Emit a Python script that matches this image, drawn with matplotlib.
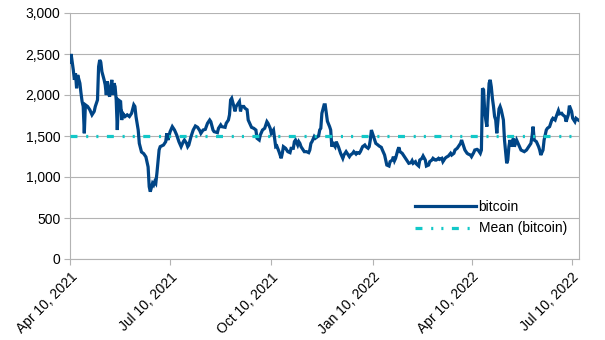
import matplotlib
matplotlib.use("Agg")
import matplotlib.pyplot as plt
import matplotlib.dates as mdates
from matplotlib.ticker import FuncFormatter
import numpy as np
import pandas as pd

plt.rcParams['font.family'] = ['Liberation Sans', 'DejaVu Sans']
plt.rcParams['lines.scale_dashes'] = False

# data, days counted from Apr 10, 2021
start_date = "2021-04-10"
days = [0, 1, 3, 4, 5, 6, 7, 9, 10, 11, 12, 13, 14, 16, 18, 20, 22, 23, 25, 26,
        27, 28, 29, 31, 32, 33, 34, 35, 36, 38, 39, 40, 41, 42, 43, 44, 46, 47, 48, 50,
        52, 54, 56, 58, 59, 60, 62, 63, 65, 67, 69, 71, 72, 73, 75, 76, 77, 78, 79, 81,
        82, 85, 87, 88, 89, 91, 93, 95, 97, 99, 101, 103, 104, 106, 107, 108, 110, 112, 114, 116,
        118, 119, 121, 123, 125, 127, 128, 130, 131, 134, 135, 137, 138, 141, 142, 144, 145, 146, 147, 149,
        150, 151, 153, 154, 155, 156, 158, 159, 161, 162, 164, 165, 167, 169, 170, 172, 173, 175, 177, 179,
        180, 182, 183, 185, 186, 187, 188, 190, 191, 192, 193, 194, 196, 198, 200, 201, 203, 204, 205, 207,
        208, 209, 210, 211, 213, 215, 217, 218, 219, 220, 222, 223, 225, 226, 227, 228, 229, 231, 232, 233,
        234, 236, 237, 238, 239, 241, 242, 244, 245, 246, 248, 249, 251, 252, 254, 255, 257, 258, 260, 261,
        263, 264, 266, 268, 269, 271, 272, 273, 274, 276, 278, 280, 281, 283, 284, 286, 287, 288, 290, 291,
        293, 294, 295, 296, 298, 299, 300, 302, 304, 305, 307, 308, 310, 311, 312, 314, 315, 317, 318, 320,
        321, 323, 324, 326, 327, 329, 330, 332, 333, 335, 336, 338, 339, 341, 342, 344, 346, 347, 349, 350,
        352, 353, 355, 356, 358, 359, 361, 362, 364, 365, 367, 368, 370, 371, 373, 374, 375, 376, 377, 378,
        379, 380, 381, 382, 383, 384, 385, 386, 387, 388, 390, 391, 392, 394, 395, 397, 398, 399, 400, 401,
        403, 404, 406, 408, 410, 413, 415, 417, 419, 420, 421, 422, 424, 426, 427, 428, 430, 431, 433, 434,
        436, 438, 439, 441, 442, 444, 445, 447, 448, 450, 451, 453, 454, 456, 457, 459, 460, 462, 463]
bitcoin = [2400, 2500, 2305, 2185, 2265, 2082, 2244, 2143, 2022, 1920, 1860, 1533, 1880, 1860, 1820, 1758, 1800, 1860, 1940, 2346,
           2427, 2400, 2285, 2185, 2124, 2000, 2165, 2022, 1980, 2185, 2000, 2143, 2103, 1940, 1573, 1940, 1920, 1695, 1777, 1737,
           1758, 1737, 1777, 1880, 1860, 1737, 1573, 1410, 1305, 1285, 1245, 1123, 882, 821, 923, 903, 943, 923, 1045, 1330,
           1370, 1390, 1431, 1533, 1451, 1553, 1614, 1573, 1512, 1431, 1370, 1431, 1451, 1410, 1370, 1390, 1492, 1573, 1622, 1606,
           1565, 1533, 1573, 1581, 1655, 1695, 1675, 1573, 1553, 1541, 1594, 1635, 1614, 1606, 1655, 1695, 1758, 1940, 1960, 1860,
           1800, 1860, 1900, 1920, 1800, 1860, 1860, 1840, 1820, 1695, 1635, 1606, 1594, 1573, 1472, 1451, 1512, 1573, 1594, 1675,
           1655, 1594, 1533, 1573, 1472, 1370, 1378, 1309, 1268, 1228, 1289, 1370, 1350, 1309, 1297, 1350, 1350, 1431, 1451, 1390,
           1431, 1410, 1370, 1350, 1309, 1309, 1297, 1329, 1410, 1431, 1492, 1472, 1492, 1500, 1573, 1594, 1777, 1880, 1880, 1780,
           1680, 1614, 1573, 1370, 1410, 1370, 1431, 1370, 1329, 1289, 1228, 1268, 1309, 1289, 1248, 1268, 1289, 1309, 1280, 1297,
           1289, 1309, 1370, 1390, 1370, 1350, 1370, 1451, 1573, 1492, 1410, 1390, 1378, 1362, 1329, 1268, 1207, 1146, 1134, 1187,
           1207, 1248, 1199, 1228, 1329, 1362, 1309, 1289, 1248, 1228, 1187, 1167, 1175, 1199, 1167, 1187, 1158, 1134, 1207, 1228,
           1256, 1207, 1134, 1146, 1187, 1207, 1228, 1207, 1207, 1228, 1215, 1228, 1187, 1228, 1240, 1256, 1289, 1268, 1289, 1329,
           1350, 1370, 1410, 1451, 1370, 1329, 1289, 1280, 1268, 1248, 1297, 1329, 1337, 1329, 1289, 1329, 2082, 2062, 1800, 1695,
           1614, 1900, 2143, 2185, 2100, 1960, 1860, 1737, 1695, 1533, 1830, 1860, 1820, 1695, 1451, 1167, 1207, 1370, 1451, 1370,
           1472, 1370, 1451, 1390, 1329, 1309, 1329, 1370, 1410, 1492, 1614, 1451, 1431, 1370, 1329, 1268, 1329, 1451, 1573, 1594,
           1614, 1695, 1716, 1695, 1737, 1810, 1770, 1777, 1758, 1737, 1675, 1758, 1870, 1800, 1716, 1675, 1716, 1695, 1687]
mean_bitcoin = 1496

tick_dates = ["2021-04-10", "2021-07-10", "2021-10-10", "2022-01-10", "2022-04-10", "2022-07-10"]
y_ticks = [0, 500, 1000, 1500, 2000, 2500, 3000]

dates = pd.Timestamp(start_date) + pd.to_timedelta(days, unit="D")

fig = plt.figure(figsize=(6.05, 3.40), dpi=100)
ax = fig.add_axes([70 / 605, 1 - 259 / 340, 509.3 / 605, 246 / 340])

ax.plot(dates, bitcoin, color="#004586", lw=2.3, label="bitcoin", zorder=3,
        solid_joinstyle="miter")
ax.plot([dates[0], dates[-1]], [mean_bitcoin, mean_bitcoin], color="#12c8c8", lw=2.3,
        linestyle=(0, (5, 6.3, 1.5, 5.8, 1.5, 6.1)), label="Mean (bitcoin)", zorder=4)

ax.set_xlim(dates[0], dates[-1])
ax.set_ylim(0, 3000)
ax.set_yticks(y_ticks)
ax.yaxis.set_major_formatter(FuncFormatter(lambda v, p: f"{int(v):,}"))
ax.set_xticks(pd.to_datetime(tick_dates))
ax.xaxis.set_major_formatter(mdates.DateFormatter("%b %d, %Y"))
plt.setp(ax.get_xticklabels(), rotation=45, ha="right", rotation_mode="anchor")

ax.grid(axis="y", color="#b3b3b3", lw=0.8)
ax.set_axisbelow(True)
for s in ax.spines.values():
    s.set_color("#b3b3b3")
    s.set_linewidth(0.8)
ax.spines["top"].set_visible(False)
ax.tick_params(axis="both", colors="#b3b3b3", labelcolor="#000000", labelsize=10,
               length=4, width=0.8)
ax.tick_params(axis="y", pad=3)
ax.tick_params(axis="x", pad=4)

ax.legend(loc="lower right", bbox_to_anchor=(1.0, 0.045), frameon=False, fontsize=10,
          handlelength=4.4, handletextpad=0.2, labelspacing=0.55, borderaxespad=0.5)

fig.savefig("out.png", dpi=100)
